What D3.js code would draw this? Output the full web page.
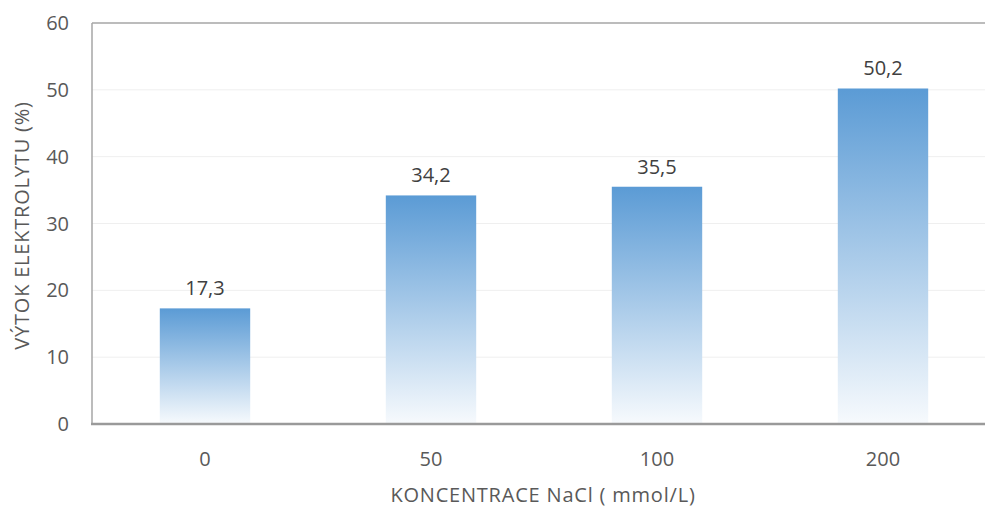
<!DOCTYPE html>
<html>
<head>
<meta charset="utf-8">
<script src="https://cdn.jsdelivr.net/npm/d3@7"></script>
<style>
  body { margin: 0; background: #fff; }
  text { font-family: "Open Sans", sans-serif; fill: #595959; }
</style>
</head>
<body>
<svg width="985" height="507"></svg>
<script>
// Data
var categories = ['0', '50', '100', '200'];
var values = [17.3, 34.2, 35.5, 50.2];
var yTicks = [0, 10, 20, 30, 40, 50, 60];

var svg = d3.select('svg');
var plotLeft = 92, plotRight = 996, plotTop = 23, plotBottom = 424;

var x = d3.scaleBand().domain(categories).range([plotLeft, plotRight])
  .paddingInner(0.6).paddingOuter(0.3);
var y = d3.scaleLinear().domain([0, 60]).range([plotBottom, plotTop]);

// Gradient for the bars
var grad = svg.append('defs').append('linearGradient')
  .attr('id', 'barGrad').attr('x1', 0).attr('y1', 0).attr('x2', 0).attr('y2', 1);
grad.append('stop').attr('offset', '0%').attr('stop-color', '#5b9bd5');
grad.append('stop').attr('offset', '100%').attr('stop-color', '#f7fafd');

// Gridlines
svg.append('g').selectAll('line')
  .data(yTicks.slice(1, -1)).enter()
  .append('line')
  .attr('x1', plotLeft).attr('x2', plotRight)
  .attr('y1', d => y(d)).attr('y2', d => y(d))
  .attr('stroke', '#efefef').attr('stroke-width', 1);

// Bars
svg.append('g').selectAll('rect')
  .data(values).enter()
  .append('rect')
  .attr('x', (d, i) => x(categories[i]))
  .attr('y', d => y(d))
  .attr('width', x.bandwidth())
  .attr('height', d => plotBottom - y(d))
  .attr('fill', 'url(#barGrad)');

// Frame: top and left lines, bottom axis
svg.append('line').attr('x1', plotLeft).attr('x2', plotRight).attr('y1', plotTop).attr('y2', plotTop)
  .attr('stroke', '#a6a6a6').attr('stroke-width', 1.5);
svg.append('line').attr('x1', plotLeft).attr('x2', plotLeft).attr('y1', plotTop).attr('y2', plotBottom)
  .attr('stroke', '#a6a6a6').attr('stroke-width', 1.5);
svg.append('line').attr('x1', plotLeft - 1).attr('x2', plotRight).attr('y1', plotBottom).attr('y2', plotBottom)
  .attr('stroke', '#9a9a9a').attr('stroke-width', 2.5);

// Y tick labels
svg.append('g').selectAll('text')
  .data(yTicks).enter()
  .append('text')
  .attr('x', 69).attr('y', d => y(d))
  .attr('dy', '0.35em')
  .attr('text-anchor', 'end')
  .style('font-size', '20px')
  .text(d => d);

// X tick labels
svg.append('g').selectAll('text')
  .data(categories).enter()
  .append('text')
  .attr('x', d => x(d) + x.bandwidth() / 2)
  .attr('y', 466)
  .attr('text-anchor', 'middle')
  .style('font-size', '20px')
  .text(d => d);

// Value labels
svg.append('g').selectAll('text')
  .data(values).enter()
  .append('text')
  .attr('x', (d, i) => x(categories[i]) + x.bandwidth() / 2)
  .attr('y', d => y(d) - 13)
  .attr('text-anchor', 'middle')
  .style('font-size', '20px')
  .style('fill', '#404040')
  .text(d => d.toFixed(1).replace('.', ','));

// Axis titles
svg.append('text')
  .attr('x', 543).attr('y', 502)
  .attr('text-anchor', 'middle')
  .style('font-size', '20px')
  .style('letter-spacing', '0.8px')
  .text('KONCENTRACE NaCl ( mmol/L)');

svg.append('text')
  .attr('transform', 'translate(29,' + ((plotTop + plotBottom) / 2 + 2) + ') rotate(-90)')
  .attr('text-anchor', 'middle')
  .style('font-size', '20px')
  .style('letter-spacing', '0.8px')
  .text('VÝTOK ELEKTROLYTU (%)');
</script>
</body>
</html>
